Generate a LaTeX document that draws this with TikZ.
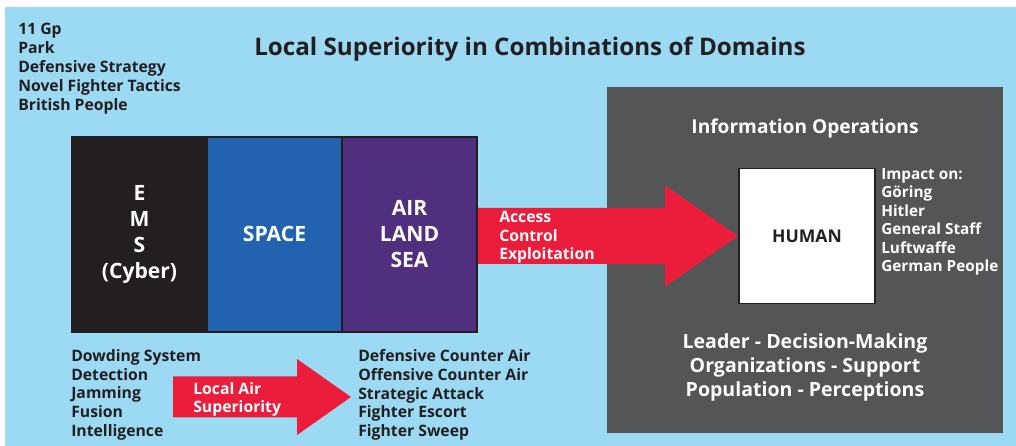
\documentclass[tikz,border=0pt]{standalone}
\usepackage{fontspec}
\setmainfont{Open Sans}
\usepackage{tikz}
\usetikzlibrary{calc,positioning}
\definecolor{lssky}{RGB}{156,217,243}
\definecolor{lsblack}{RGB}{35,31,32}
\definecolor{lsspace}{RGB}{33,99,174}
\definecolor{lspurple}{RGB}{80,47,127}
\definecolor{lsred}{RGB}{236,29,59}
\definecolor{lsgrey}{RGB}{84,85,87}
\tikzstyle{domainbox} = [rectangle, draw=lsblack, line width=1.4pt, minimum width=3.375cm, minimum height=4.875cm, text=white, align=center, font=\fontsize{15}{18.5}\selectfont\bfseries]
\tikzstyle{listtext} = [inner sep=0pt, anchor=north west, align=left, text=lsblack, font=\fontsize{11.2}{13.4}\selectfont\bfseries]
\tikzstyle{arrowtext} = [inner sep=0pt, anchor=north west, align=left, text=white, font=\fontsize{11.2}{13.1}\selectfont\bfseries]

\begin{document}
\begin{tikzpicture}
    \useasboundingbox (0,0) rectangle (25.4,11.15);
    % Background
    \fill[lssky] (0.125,0) rectangle (25.4,10.975);

    % Title and forces
    \node[text=lsblack, font=\fontsize{17.2}{20}\selectfont\bfseries] (title) at (13.25,9.93) {Local Superiority in Combinations of Domains};
    \node[listtext] (gpList) at (0.45,10.57) {11 Gp\\Park\\Defensive Strategy\\Novel Fighter Tactics\\British People};

    % Domain blocks
    \node[domainbox, fill=lsblack] (ems) at (3.4875,5.29) {E\\M\\S\\(Cyber)};
    \node[domainbox, fill=lsspace] (space) at (6.8625,5.29) {SPACE};
    \node[domainbox, fill=lspurple] (als) at (10.2375,5.29) {AIR\\LAND\\SEA};

    % Information operations
    \node[rectangle, fill=lsgrey, minimum width=9.9cm, minimum height=8.65cm] (io) at (20.125,4.65) {};
    \node[text=white, font=\fontsize{13.6}{16}\selectfont\bfseries] (ioTitle) at (20.125,7.95) {Information Operations};
    \node[rectangle, draw=lsblack, line width=1.4pt, fill=white, minimum width=3.4cm, minimum height=3.375cm, text=lsblack, font=\fontsize{12.5}{15}\selectfont\bfseries] (human) at (20.175,5.25) {HUMAN};
    \node[listtext, text=white, font=\fontsize{10.9}{13.2}\selectfont\bfseries] (impact) at (22.025,6.95) {Impact on:\\Göring\\Hitler\\General Staff\\Luftwaffe\\German People};
    \node[text=white, align=center, font=\fontsize{13.9}{17}\selectfont\bfseries] (ioText) at (20.125,1.97) {Leader - Decision-Making\\Organizations - Support\\Population - Perceptions};

    % Access arrow
    \fill[lsred] ($(als.east |- human.west)+(0,0.7)$) -- ($(human.west)+(-1.825,0.7)$) -- ($(human.west)+(-1.825,1.2625)$) -- (human.west)
        -- ($(human.west)+(-1.825,-1.2625)$) -- ($(human.west)+(-1.825,-0.7)$) -- ($(als.east |- human.west)+(0,-0.7)$) -- cycle;
    \node[arrowtext] (acLabel) at (12.475,5.87) {Access\\Control\\Exploitation};

    % Local air superiority
    \node[listtext] (dowding) at (1.775,2.425) {Dowding System\\Detection\\Jamming\\Fusion\\Intelligence};
    \node[listtext] (dcaList) at (8.95,2.425) {Defensive Counter Air\\Offensive Counter Air\\Strategic Attack\\Fighter Escort\\Fighter Sweep};
    \coordinate (lasTail) at (4.325,1.225);
    \coordinate (lasTip) at (8.775,1.225);
    \fill[lsred] ($(lasTail)+(0,0.5125)$) -- ($(lasTip)+(-1.35,0.5125)$) -- ($(lasTip)+(-1.35,0.95)$) -- (lasTip)
        -- ($(lasTip)+(-1.35,-0.95)$) -- ($(lasTip)+(-1.35,-0.5125)$) -- ($(lasTail)+(0,-0.5125)$) -- cycle;
    \node[arrowtext] (lasLabel) at (4.825,1.6) {Local Air\\Superiority};
\end{tikzpicture}
\end{document}
